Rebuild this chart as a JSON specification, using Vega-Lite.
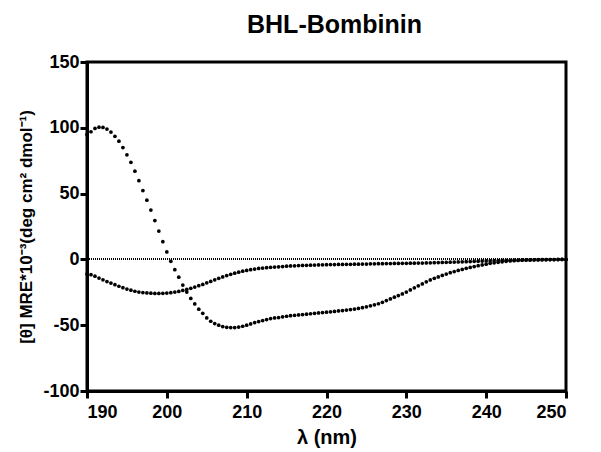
{
  "$schema": "https://vega.github.io/schema/vega-lite/v6.json",
  "autosize": "none",
  "padding": {"left": 87, "top": 62, "right": 35, "bottom": 61},
  "width": 479,
  "height": 329,
  "background": "white",
  "title": {"text": "BHL-Bombinin", "font": "Liberation Sans", "fontSize": 25, "fontWeight": "bold", "color": "black", "anchor": "middle", "dx": 8, "offset": 15},
  "config": {
    "view": {"stroke": "black", "strokeWidth": 3},
    "axis": {"grid": false, "domainColor": "black", "domainWidth": 3, "tickColor": "black", "tickWidth": 3, "tickSize": 7, "labelFont": "Liberation Sans", "labelFontSize": 18, "labelFontWeight": "bold", "labelColor": "black", "titleFont": "Liberation Sans", "titleFontWeight": "bold", "titleColor": "black", "labelPadding": 1, "labelExpr": "'' + datum.value"}
  },
  "data": {"values": [
    {"l":190.0,"a":95,"b":-11},{"l":190.5,"a":97,"b":-11.6},{"l":191.0,"a":99.5,"b":-12.8},{"l":191.5,"a":100.5,"b":-14.2},{"l":192.0,"a":100.3,"b":-15.5},{"l":192.5,"a":99,"b":-16.8},{"l":193.0,"a":96.8,"b":-18},{"l":193.5,"a":93.5,"b":-19.2},{"l":194.0,"a":89.8,"b":-20.4},{"l":194.5,"a":85,"b":-21.5},
    {"l":195.0,"a":79.5,"b":-22.5},{"l":195.5,"a":73.8,"b":-23.4},{"l":196.0,"a":67,"b":-24.2},{"l":196.5,"a":59.8,"b":-24.8},{"l":197.0,"a":52.3,"b":-25.2},{"l":197.5,"a":45,"b":-25.5},{"l":198.0,"a":37.5,"b":-25.7},{"l":198.5,"a":29.5,"b":-25.9},{"l":199.0,"a":21.5,"b":-25.9},{"l":199.5,"a":13.5,"b":-25.8},
    {"l":200.0,"a":5.7,"b":-25.6},{"l":200.5,"a":-1.5,"b":-25.3},{"l":201.0,"a":-7.8,"b":-24.8},{"l":201.5,"a":-13.5,"b":-24.3},{"l":202.0,"a":-19.5,"b":-23.6},{"l":202.5,"a":-24.8,"b":-22.8},{"l":203.0,"a":-29.7,"b":-22},{"l":203.5,"a":-33.8,"b":-21},{"l":204.0,"a":-37.8,"b":-20},{"l":204.5,"a":-41,"b":-19},
    {"l":205.0,"a":-44.5,"b":-17.8},{"l":205.5,"a":-47,"b":-16.7},{"l":206.0,"a":-48.8,"b":-15.5},{"l":206.5,"a":-50,"b":-14.4},{"l":207.0,"a":-51,"b":-13.3},{"l":207.5,"a":-51.6,"b":-12.3},{"l":208.0,"a":-51.8,"b":-11.3},{"l":208.5,"a":-51.8,"b":-10.5},{"l":209.0,"a":-51.4,"b":-9.7},{"l":209.5,"a":-50.8,"b":-9},
    {"l":210.0,"a":-50,"b":-8.4},{"l":210.5,"a":-49,"b":-7.8},{"l":211.0,"a":-48,"b":-7.3},{"l":211.5,"a":-47.2,"b":-6.9},{"l":212.0,"a":-46.5,"b":-6.6},{"l":212.5,"a":-45.7,"b":-6.3},{"l":213.0,"a":-45,"b":-6},{"l":213.5,"a":-44.5,"b":-5.8},{"l":214.0,"a":-44.2,"b":-5.6},{"l":214.5,"a":-43.6,"b":-5.4},
    {"l":215.0,"a":-43.2,"b":-5.2},{"l":215.5,"a":-42.8,"b":-5},{"l":216.0,"a":-42.5,"b":-4.9},{"l":216.5,"a":-42.2,"b":-4.7},{"l":217.0,"a":-41.9,"b":-4.6},{"l":217.5,"a":-41.6,"b":-4.5},{"l":218.0,"a":-41.3,"b":-4.4},{"l":218.5,"a":-41,"b":-4.3},{"l":219.0,"a":-40.7,"b":-4.2},{"l":219.5,"a":-40.4,"b":-4.1},
    {"l":220.0,"a":-40.1,"b":-4},{"l":220.5,"a":-39.8,"b":-3.9},{"l":221.0,"a":-39.5,"b":-3.9},{"l":221.5,"a":-39.2,"b":-3.8},{"l":222.0,"a":-38.9,"b":-3.8},{"l":222.5,"a":-38.5,"b":-3.7},{"l":223.0,"a":-38.1,"b":-3.7},{"l":223.5,"a":-37.7,"b":-3.6},{"l":224.0,"a":-37.3,"b":-3.6},{"l":224.5,"a":-36.7,"b":-3.5},
    {"l":225.0,"a":-36,"b":-3.5},{"l":225.5,"a":-35.3,"b":-3.4},{"l":226.0,"a":-34.5,"b":-3.4},{"l":226.5,"a":-33.7,"b":-3.3},{"l":227.0,"a":-32.6,"b":-3.3},{"l":227.5,"a":-31.3,"b":-3.2},{"l":228.0,"a":-30,"b":-3.2},{"l":228.5,"a":-28.7,"b":-3.1},{"l":229.0,"a":-27.5,"b":-3.1},{"l":229.5,"a":-26.2,"b":-3},
    {"l":230.0,"a":-24.8,"b":-3},{"l":230.5,"a":-23.2,"b":-2.9},{"l":231.0,"a":-21.6,"b":-2.9},{"l":231.5,"a":-20.1,"b":-2.8},{"l":232.0,"a":-18.6,"b":-2.8},{"l":232.5,"a":-17,"b":-2.7},{"l":233.0,"a":-15.6,"b":-2.6},{"l":233.5,"a":-14.4,"b":-2.5},{"l":234.0,"a":-13.3,"b":-2.4},{"l":234.5,"a":-12.2,"b":-2.3},
    {"l":235.0,"a":-11.1,"b":-2.2},{"l":235.5,"a":-10.1,"b":-2.1},{"l":236.0,"a":-9.2,"b":-2},{"l":236.5,"a":-8.4,"b":-1.9},{"l":237.0,"a":-7.6,"b":-1.8},{"l":237.5,"a":-6.8,"b":-1.7},{"l":238.0,"a":-6.1,"b":-1.6},{"l":238.5,"a":-5.4,"b":-1.5},{"l":239.0,"a":-4.8,"b":-1.4},{"l":239.5,"a":-4.2,"b":-1.3},
    {"l":240.0,"a":-3.6,"b":-1.2},{"l":240.5,"a":-3,"b":-1.1},{"l":241.0,"a":-2.6,"b":-1},{"l":241.5,"a":-2.2,"b":-0.9},{"l":242.0,"a":-1.8,"b":-0.8},{"l":242.5,"a":-1.5,"b":-0.7},{"l":243.0,"a":-1.2,"b":-0.7},{"l":243.5,"a":-1,"b":-0.6},{"l":244.0,"a":-0.8,"b":-0.5},{"l":244.5,"a":-0.6,"b":-0.5},
    {"l":245.0,"a":-0.5,"b":-0.4},{"l":245.5,"a":-0.4,"b":-0.4},{"l":246.0,"a":-0.3,"b":-0.3},{"l":246.5,"a":-0.2,"b":-0.3},{"l":247.0,"a":-0.2,"b":-0.2},{"l":247.5,"a":-0.1,"b":-0.2},{"l":248.0,"a":-0.1,"b":-0.1},{"l":248.5,"a":-0.1,"b":-0.1},{"l":249.0,"a":0,"b":-0.1},{"l":249.5,"a":0,"b":0},
    {"l":250.0,"a":0,"b":0}
  ]},
  "encoding": {
    "x": {"field": "l", "type": "quantitative", "scale": {"domain": [190, 250], "nice": false, "zero": false},
      "axis": {"values": [190, 200, 210, 220, 230, 240, 250], "title": "λ (nm)", "titleFontSize": 20, "titleX": 239.5, "titleY": 46, "titleAlign": "center", "titleBaseline": "middle", "labelPadding": 5}},
    "y": {"type": "quantitative", "scale": {"domain": [-100, 150], "nice": false, "zero": false},
      "axis": {"values": [-100, -50, 0, 50, 100, 150], "title": "[θ] MRE*10⁻³(deg cm² dmol⁻¹)", "titleFontSize": 17, "titleAngle": -90, "titleX": -61, "titleY": 164.5, "titleAlign": "center", "titleBaseline": "middle"}}
  },
  "layer": [
    {"mark": {"type": "rule", "color": "black", "strokeWidth": 1, "strokeDash": [1, 1]}, "encoding": {"y": {"datum": 0, "type": "quantitative"}, "x": {"value": 0}, "x2": {"value": 479}}},
    {"mark": {"type": "circle", "color": "black", "opacity": 1, "size": 14}, "encoding": {"y": {"field": "a", "type": "quantitative"}}},
    {"mark": {"type": "circle", "color": "black", "opacity": 1, "size": 14}, "encoding": {"y": {"field": "b", "type": "quantitative"}}}
  ]
}
